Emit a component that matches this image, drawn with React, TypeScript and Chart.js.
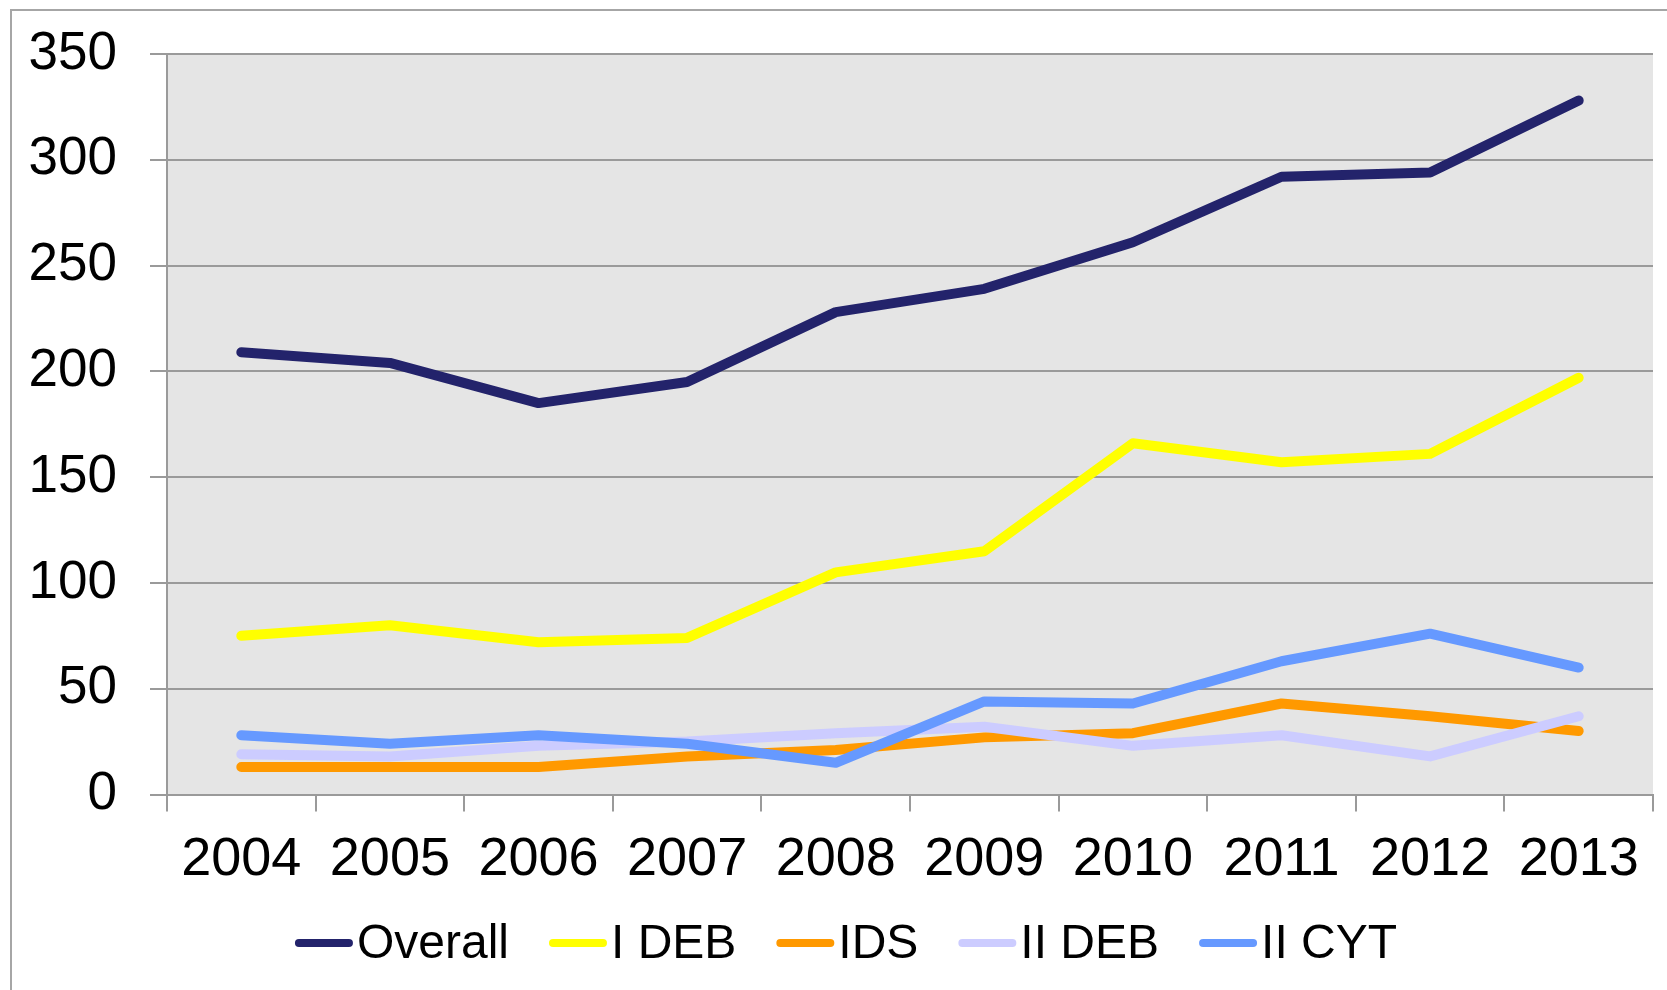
import React, { useEffect, useRef } from "react";
import { Chart, registerables } from "chart.js";

Chart.register(...registerables);

const years = ["2004", "2005", "2006", "2007", "2008", "2009", "2010", "2011", "2012", "2013"];
const overall = [209, 204, 185, 195, 228, 239, 261, 292, 294, 328];
const iDeb = [75, 80, 72, 74, 105, 115, 166, 157, 161, 197];
const ids = [13, 13, 13, 18, 21, 27, 29, 43, 37, 30];
const iiDeb = [19, 18, 23, 25, 29, 32, 23, 28, 18, 37];
const iiCyt = [28, 24, 28, 24, 15, 44, 43, 63, 76, 60];
const yTicks = [0, 50, 100, 150, 200, 250, 300, 350];

const seriesNames = ["Overall", "I DEB", "IDS", "II DEB", "II CYT"];
const seriesColors = ["#23236b", "#ffff00", "#ff9900", "#ccccff", "#6699ff"];
const seriesValues = [overall, iDeb, ids, iiDeb, iiCyt];

const FONT = "'Liberation Sans', Arial, Helvetica, sans-serif";

const frameAndBg = {
  id: "frameAndBg",
  beforeDraw(chart: any) {
    const { ctx, chartArea } = chart;
    ctx.save();
    ctx.fillStyle = "#ffffff";
    ctx.fillRect(0, 0, chart.width, chart.height);
    ctx.strokeStyle = "#a6a6a6";
    ctx.lineWidth = 2;
    ctx.strokeRect(11, 10, chart.width + 50, chart.height + 50);
    ctx.fillStyle = "#e5e5e5";
    ctx.fillRect(chartArea.left, chartArea.top, chartArea.right - chartArea.left, chartArea.bottom - chartArea.top);
    ctx.restore();
  },
};

const customLegend = {
  id: "customLegend",
  afterDraw(chart: any) {
    const { ctx } = chart;
    const fontSize = 48;
    const lineLen = 58;
    const gapText = 4;
    const gapItem = 40;
    ctx.save();
    ctx.font = `${fontSize}px ${FONT}`;
    const widths = seriesNames.map((n) => ctx.measureText(n).width);
    let total = 0;
    widths.forEach((w, i) => {
      total += lineLen + gapText + w + (i < widths.length - 1 ? gapItem : 0);
    });
    const centerX = 846;
    const y = 943;
    let x = centerX - total / 2;
    seriesNames.forEach((name, i) => {
      ctx.strokeStyle = seriesColors[i];
      ctx.lineWidth = 8;
      ctx.lineCap = "round";
      ctx.beginPath();
      ctx.moveTo(x + 4, y);
      ctx.lineTo(x + lineLen - 4, y);
      ctx.stroke();
      ctx.fillStyle = "#000000";
      ctx.textBaseline = "middle";
      ctx.textAlign = "left";
      ctx.fillText(name, x + lineLen + gapText, y + 2);
      x += lineLen + gapText + widths[i] + gapItem;
    });
    ctx.restore();
  },
};

export default function App() {
  const canvasRef = useRef<HTMLCanvasElement | null>(null);

  useEffect(() => {
    if (!canvasRef.current) return;
    const drawOrder = [4, 3, 2, 1, 0];
    const chart = new Chart(canvasRef.current, {
      type: "line",
      data: {
        labels: years,
        datasets: seriesNames.map((name, i) => ({
          label: name,
          data: seriesValues[i],
          borderColor: seriesColors[i],
          backgroundColor: seriesColors[i],
          borderWidth: 10,
          pointRadius: 0,
          pointHoverRadius: 0,
          tension: 0,
          fill: false,
          borderCapStyle: "round" as const,
          borderJoinStyle: "round" as const,
          order: drawOrder[i],
        })),
      },
      options: {
        responsive: false,
        animation: false,
        devicePixelRatio: 1,
        layout: { padding: { top: 54, right: 14, left: 0, bottom: 97.5 } },
        plugins: {
          legend: { display: false },
          tooltip: { enabled: false },
          title: { display: false },
        },
        scales: {
          x: {
            offset: true,
            grid: {
              offset: true,
              drawOnChartArea: false,
              drawTicks: true,
              tickLength: 17,
              color: "#9a9a9a",
              lineWidth: 2,
            },
            border: { display: true, color: "#9a9a9a", width: 2 },
            ticks: {
              color: "#000000",
              font: { family: FONT, size: 54 },
              padding: 16,
              maxRotation: 0,
              autoSkip: false,
            },
            afterFit(scale: any) {
              scale.height = 98;
              scale.paddingLeft = 0;
              scale.paddingRight = 0;
            },
          },
          y: {
            min: 0,
            max: 350,
            afterBuildTicks(scale: any) {
              scale.ticks = yTicks.map((v) => ({ value: v }));
            },
            grid: {
              color: "#9a9a9a",
              lineWidth: 2,
              tickLength: 17,
              drawTicks: true,
            },
            border: { display: true, color: "#9a9a9a", width: 2 },
            ticks: {
              color: "#000000",
              font: { family: FONT, size: 53 },
              padding: 33,
            },
            afterFit(scale: any) {
              scale.width = 167;
              scale.paddingTop = 0;
              scale.paddingBottom = 0;
            },
          },
        },
      },
      plugins: [frameAndBg, customLegend],
    });
    return () => chart.destroy();
  }, []);

  return (
    <div style={{ position: "absolute", left: 0, top: 0, width: 1667, height: 990, background: "#ffffff" }}>
      <canvas ref={canvasRef} width={1667} height={990} style={{ display: "block" }} />
    </div>
  );
}
